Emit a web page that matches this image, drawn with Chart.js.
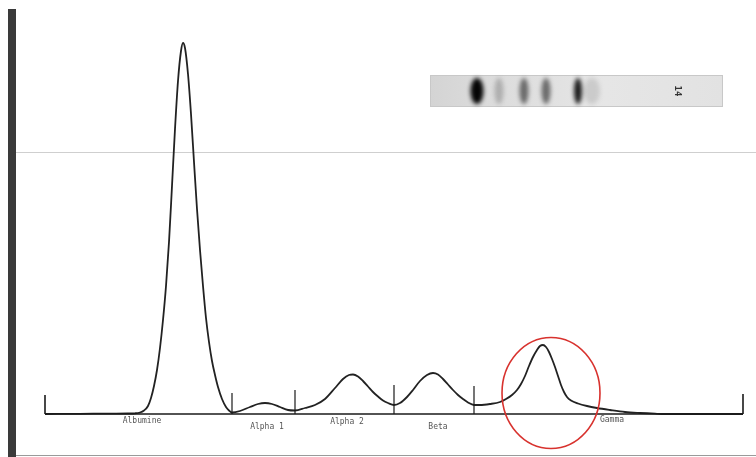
<!DOCTYPE html>
<html>
<head>
<meta charset="utf-8">
<script src="https://cdn.jsdelivr.net/npm/chart.js@4/dist/chart.umd.min.js"></script>
<style>
  html, body { margin: 0; padding: 0; background: #fff; }
  #wrap { width: 756px; height: 457px; }
</style>
</head>
<body>
<div id="wrap"><canvas id="spe" width="756" height="457"></canvas></div>
<script>
// densitometer scan (mobility -> optical density)
const mobility = [
  45, 80, 110, 128, 135, 140, 144, 148, 151, 154, 157, 160, 163, 166, 169, 172, 175, 178, 181, 183,
  185, 188, 191, 194, 197, 200, 203, 206, 209, 212, 215, 218, 222, 226, 229, 232,
  240, 250, 258, 265, 272, 280, 288, 295,
  305, 315, 325, 335, 343, 349, 353, 358, 363, 368, 373, 378, 383, 388, 394,
  400, 407, 413, 420, 427, 433, 438, 443, 448, 453, 458, 463, 468, 474,
  480, 490, 500, 506, 512, 517, 521, 525, 529, 533, 537, 540, 543, 546, 549, 552, 555, 558,
  561, 564, 567, 571, 578, 587, 597, 610, 625, 640, 655, 665, 743
];
const density = [
  0, 0.2, 0.4, 0.5, 0.7, 1.5, 3.5, 8, 16, 28, 44, 66, 94, 128, 172, 228, 285, 333, 363, 371,
  366, 340, 300, 252, 205, 164, 128, 96, 72, 53, 39, 27, 15, 7, 3.5, 1.5,
  3, 7, 10, 11, 10, 7, 4, 3.5,
  6, 9, 15, 26, 35, 39, 39.5, 37.5, 33, 27.5, 22, 17.5, 13.5, 11, 9,
  11, 17, 24, 33, 39, 41, 39.5, 35, 29.5, 24, 19, 15, 11.5, 9,
  9, 10, 12, 15, 19, 24, 30, 38, 48, 57, 64, 68, 69, 67, 62, 55, 47, 38,
  29, 22, 17, 13.5, 10.5, 8, 6, 4, 2, 1, 0.3, 0, 0
];
const fractions = ['Albumine', 'Alpha 1', 'Alpha 2', 'Beta', 'Gamma'];
const fractionCenters = [142, 267, 347, 438, 612];
const dividers = [232, 295, 394, 474];
const scanEnds = [45, 743];

/* ========== DECORATION ========== */
const scanDecor = {
    id: 'scanDecor',
    beforeDraw(chart) {
        const ctx = chart.ctx;
        ctx.save();
        ctx.fillStyle = '#ffffff';
        ctx.fillRect(0, 0, chart.width, chart.height);

        // faint ruled line + bottom edge
        ctx.strokeStyle = '#cfcfcf';
        ctx.lineWidth = 1;
        ctx.beginPath();
        ctx.moveTo(16, 152.5); ctx.lineTo(756, 152.5);
        ctx.stroke();
        ctx.strokeStyle = '#9a9a9a';
        ctx.beginPath();
        ctx.moveTo(16, 455.5); ctx.lineTo(756, 455.5);
        ctx.stroke();

        // dark left margin bar
        ctx.fillStyle = '#3a3a3a';
        ctx.fillRect(8, 9, 8, 448);

        // gel strip
        const gx = 430, gy = 75, gw = 293, gh = 32;
        const grad = ctx.createLinearGradient(gx, 0, gx + gw, 0);
        grad.addColorStop(0, '#d4d4d4');
        grad.addColorStop(0.15, '#dadada');
        grad.addColorStop(0.6, '#e6e6e6');
        grad.addColorStop(1, '#e2e2e2');
        ctx.fillStyle = grad;
        ctx.fillRect(gx, gy, gw, gh);
        ctx.strokeStyle = '#c8c8c8';
        ctx.strokeRect(gx + 0.5, gy + 0.5, gw - 1, gh - 1);

        ctx.filter = 'blur(2px)';
        const bands = [
            [477, 13, 'rgba(5,5,5,1)'],
            [499, 9, 'rgba(70,70,70,0.3)'],
            [524, 9, 'rgba(45,45,45,0.65)'],
            [546, 9, 'rgba(45,45,45,0.65)'],
            [578, 8, 'rgba(10,10,10,0.92)'],
            [592, 16, 'rgba(90,90,90,0.18)']
        ];
        bands.forEach(([cx, w, col]) => {
            ctx.fillStyle = col;
            ctx.beginPath();
            ctx.ellipse(cx, gy + gh / 2, w / 2, gh / 2 - 3, 0, 0, Math.PI * 2);
            ctx.fill();
        });
        ctx.filter = 'none';

        ctx.translate(677, 91);
        ctx.rotate(Math.PI / 2);
        ctx.fillStyle = '#333';
        ctx.font = 'bold 9px "DejaVu Sans Mono"';
        ctx.textAlign = 'center';
        ctx.textBaseline = 'middle';
        ctx.fillText('14', 0, 0);
        ctx.restore();
    },
    afterDatasetsDraw(chart) {
        const ctx = chart.ctx;
        const xs = chart.scales.x, ys = chart.scales.y;
        const y0 = ys.getPixelForValue(0);
        ctx.save();
        ctx.strokeStyle = '#1a1a1a';
        ctx.lineWidth = 1.6;

        // baseline and end ticks
        ctx.beginPath();
        ctx.moveTo(xs.getPixelForValue(scanEnds[0]), y0);
        ctx.lineTo(xs.getPixelForValue(scanEnds[1]), y0);
        ctx.stroke();
        const endTop = [19, 20];
        scanEnds.forEach((v, i) => {
            const px = xs.getPixelForValue(v);
            ctx.beginPath();
            ctx.moveTo(px, y0); ctx.lineTo(px, ys.getPixelForValue(endTop[i]));
            ctx.stroke();
        });

        // fraction dividers
        const divTop = [21, 24, 29, 28];
        ctx.lineWidth = 1.2;
        dividers.forEach((v, i) => {
            const px = xs.getPixelForValue(v);
            ctx.beginPath();
            ctx.moveTo(px, y0); ctx.lineTo(px, ys.getPixelForValue(divTop[i]));
            ctx.stroke();
        });

        // fraction names
        const labelDrop = [7, 13, 8, 13, 6];
        ctx.fillStyle = '#555';
        ctx.font = '8px "DejaVu Sans Mono"';
        ctx.textAlign = 'center';
        ctx.textBaseline = 'middle';
        fractions.forEach((name, i) => {
            ctx.fillText(name, xs.getPixelForValue(fractionCenters[i]), y0 + labelDrop[i]);
        });

        // red ring around gamma
        ctx.strokeStyle = '#d8322e';
        ctx.lineWidth = 1.6;
        ctx.beginPath();
        ctx.ellipse(551, 393, 49, 55.5, 0, 0, Math.PI * 2);
        ctx.stroke();
        ctx.restore();
    }
};

/* ========== CHART ========== */
const ctx = document.getElementById('spe').getContext('2d');
new Chart(ctx, {
    type: 'line',
    data: {
        datasets: [{
            data: mobility.map((m, i) => ({ x: m, y: density[i] })),
            borderColor: '#222222',
            borderWidth: 1.8,
            pointRadius: 0,
            fill: false,
            cubicInterpolationMode: 'monotone'
        }]
    },
    options: {
        responsive: false,
        animation: false,
        layout: { padding: 0 },
        plugins: { legend: { display: false }, tooltip: { enabled: false } },
        scales: {
            x: { type: 'linear', min: 0, max: 756, display: false },
            y: { type: 'linear', min: -43, max: 414, display: false }
        }
    },
    plugins: [scanDecor]
});
</script>
</body>
</html>
